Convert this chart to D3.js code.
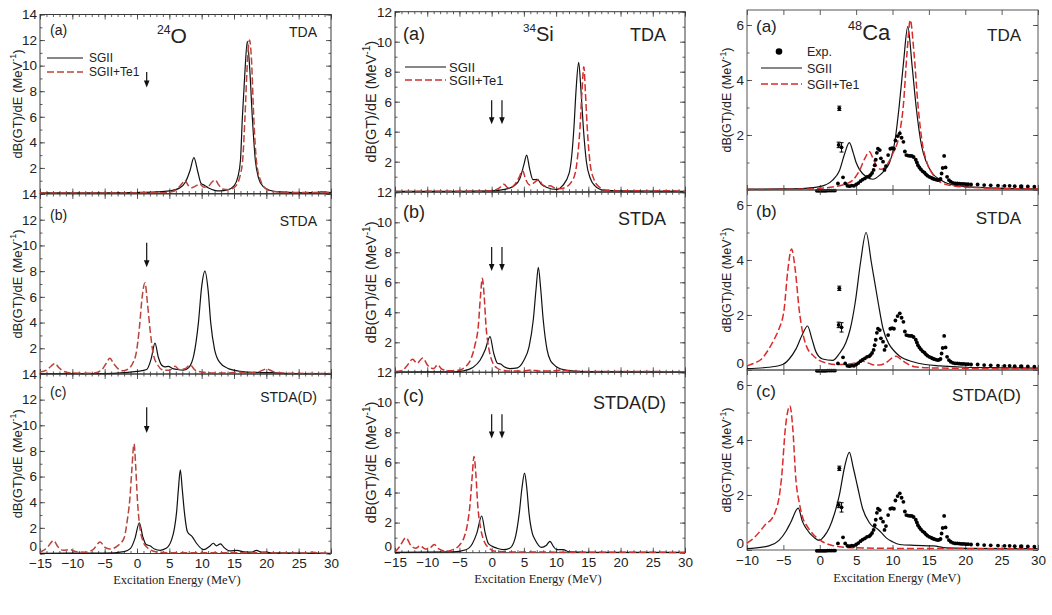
<!doctype html>
<html>
<head>
<meta charset="utf-8">
<script src="https://d3js.org/d3.v7.min.js"></script>
<style>
  body { margin: 0; background: #fff; }
  text { font-family: "Liberation Sans", Arial, sans-serif; fill: #222; }
  .serif { font-family: "Liberation Serif", "Times New Roman", serif; }
</style>
</head>
<body>
<script>
// ---------------- data ----------------
// 24O
var o24TdaSgii = [[-15,0.05],[-5,0.06],[0,0.08],[3,0.12],[5,0.2],[6.5,0.4],[7.5,0.9],[8.2,1.8],[8.8,2.8],[9.4,1.7],[9.9,0.8],[10.4,0.65],[11,0.45],[12,0.25],[12.8,0.2],[14,0.28],[15,0.6],[15.6,1.3],[16,2.6],[16.29,5.9],[16.7,9.6],[17.06,11.9],[17.45,9.6],[17.84,5.9],[18.3,2.6],[18.8,1.2],[19.5,0.55],[20.5,0.25],[22,0.12],[25,0.06],[27.5,0.07],[28.5,0.12],[29.3,0.1],[30,0.08]];
var o24TdaTe1 = [[-15,0.03],[0,0.05],[4,0.06],[5.5,0.15],[6.4,0.45],[7.0,0.8],[7.4,1.05],[7.9,0.65],[8.4,0.45],[9.1,0.6],[9.7,0.75],[10.3,0.5],[11.0,0.55],[11.6,0.9],[12.1,1.05],[12.6,0.7],[13.2,0.35],[14.2,0.3],[15.2,0.55],[16.0,1.5],[16.4,3],[16.7,6],[17.1,10.5],[17.4,12.0],[17.7,10.5],[18.05,6],[18.5,2.4],[19.2,0.9],[20,0.35],[21,0.15],[24,0.07],[28,0.08],[30,0.05]];
var o24StdaSgii = [[-15,0.02],[-5,0.03],[-2,0.1],[0,0.2],[1.5,0.35],[2.2,1.2],[2.78,2.4],[3.3,1.3],[3.8,0.7],[4.3,0.55],[4.85,0.6],[5.4,0.45],[6.2,0.35],[7.2,0.3],[8.0,0.5],[8.8,1.5],[9.5,4.0],[10.0,6.8],[10.5,8.0],[11.0,6.5],[11.4,4.0],[12.0,1.9],[12.8,0.9],[14,0.45],[14.9,0.3],[16,0.2],[18,0.12],[21,0.1],[23,0.03],[30,0.02]];
var o24StdaTe1 = [[-15,0.15],[-14,0.3],[-13.3,0.6],[-12.7,0.83],[-12.1,0.5],[-11.3,0.2],[-10,0.08],[-7,0.06],[-5.5,0.3],[-4.8,0.8],[-4.2,1.22],[-3.6,0.8],[-2.8,0.35],[-2.2,0.25],[-1.5,0.35],[-0.7,0.8],[-0.1,1.7],[0.36,3.55],[0.8,6.0],[1.24,7.1],[1.6,5.6],[2.0,3.55],[2.5,1.6],[3.2,0.7],[4.1,0.3],[5.0,0.3],[5.9,0.6],[6.5,0.35],[7.4,0.4],[8.2,0.7],[9.0,0.3],[10,0.15],[12,0.08],[14,0.08],[15.9,0.15],[17,0.08],[19,0.2],[20.05,0.4],[21,0.2],[22.5,0.08],[25,0.05],[30,0.03]];
var o24StdaDSgii = [[-15,0.02],[-5,0.03],[-2,0.15],[-1,0.4],[-0.3,1.2],[0.36,2.4],[0.9,1.3],[1.4,0.7],[2.0,0.6],[2.7,0.35],[3.6,0.25],[4.5,0.4],[5.3,1.0],[5.8,2.0],[6.13,3.27],[6.4,5.0],[6.7,6.53],[7.0,5.0],[7.32,3.27],[7.8,1.7],[8.56,1.3],[9.2,0.8],[10.3,0.3],[11.2,0.55],[11.8,0.8],[12.3,0.6],[12.9,0.75],[13.5,0.45],[14.4,0.2],[15.5,0.25],[16.5,0.12],[17.7,0.1],[18.5,0.25],[19.2,0.1],[20,0.1],[21,0.05],[30,0.02]];
var o24StdaDTe1 = [[-15,0.1],[-14,0.4],[-12.9,1.0],[-12.2,0.5],[-11.4,0.25],[-10.4,0.3],[-9.5,0.15],[-8,0.1],[-6.8,0.3],[-5.7,0.9],[-5.0,0.5],[-4.2,0.35],[-3.0,0.6],[-2.0,1.2],[-1.5,2.6],[-1.1,4.3],[-0.8,6.5],[-0.46,8.56],[-0.2,6.8],[0.05,4.3],[0.4,2.2],[0.9,1.0],[1.5,0.5],[2.0,0.3],[3,0.12],[5,0.06],[10,0.05],[20,0.05],[26,0.04],[27,0.1],[28,0.05],[30,0.02]];
// 34Si
var si34TdaSgii = [[-15,0.02],[-5,0.03],[0,0.05],[2,0.15],[3.5,0.4],[4.4,0.9],[5.0,1.8],[5.43,2.44],[5.9,1.5],[6.4,0.8],[7.08,0.82],[7.7,0.5],[8.5,0.3],[10.1,0.15],[11,0.4],[12.0,1.2],[12.4,2.3],[12.77,4.3],[13.1,6.8],[13.5,8.62],[13.85,6.8],[14.22,4.3],[14.7,2.0],[15.3,0.9],[16,0.4],[17.3,0.1],[20,0.05],[30,0.03]];
var si34TdaTe1 = [[-15,0.02],[-2,0.03],[0,0.06],[1.2,0.25],[1.9,0.49],[2.6,0.25],[3.3,0.35],[4.2,0.9],[4.8,1.4],[5.3,0.8],[5.9,0.45],[6.6,0.6],[7.3,0.82],[7.9,0.45],[8.5,0.35],[9.05,0.4],[9.8,0.25],[10.6,0.2],[11.5,0.3],[12.3,0.6],[13.0,1.3],[13.35,2.4],[13.7,4.2],[14.0,6.6],[14.3,8.33],[14.55,6.6],[14.84,4.2],[15.3,1.8],[15.9,0.8],[16.6,0.35],[17.8,0.1],[20,0.05],[23,0.07],[24,0.03],[26.6,0.07],[30,0.02]];
var si34StdaSgii = [[-15,0.02],[-6,0.03],[-4.4,0.1],[-3,0.3],[-1.8,0.8],[-1.0,1.5],[-0.26,2.38],[0.3,1.3],[0.9,0.6],[1.4,0.55],[2.0,0.35],[2.84,0.25],[4.0,0.3],[5.0,0.8],[5.8,1.7],[6.46,3.5],[6.9,5.6],[7.24,7.0],[7.6,5.6],[8.0,3.5],[8.6,1.5],[9.1,0.8],[9.57,0.55],[10.3,0.3],[11.5,0.15],[14.2,0.05],[30,0.02]];
var si34StdaTe1 = [[-15,0.05],[-14,0.1],[-13.2,0.4],[-12.26,0.87],[-11.6,0.6],[-10.7,0.95],[-9.9,0.45],[-9.0,0.25],[-8.4,0.5],[-7.7,0.2],[-6.5,0.1],[-5,0.15],[-4,0.4],[-3.2,0.9],[-2.6,1.8],[-2.07,3.1],[-1.75,5.0],[-1.45,6.27],[-1.15,5.0],[-0.88,3.1],[-0.4,1.5],[0.2,0.6],[0.77,0.3],[1.5,0.15],[3,0.08],[5,0.1],[6.2,0.15],[7.5,0.08],[9.5,0.1],[10.9,0.15],[12,0.08],[15,0.05],[20,0.06],[30,0.03]];
var si34StdaDSgii = [[-15,0.02],[-6,0.05],[-4,0.2],[-3,0.6],[-2.3,1.3],[-1.55,2.44],[-1.0,1.3],[-0.5,0.6],[0.0,0.45],[0.8,0.3],[1.8,0.2],[2.8,0.3],[3.6,0.9],[4.29,2.65],[4.7,4.3],[5.1,5.29],[5.45,4.3],[5.79,2.65],[6.3,1.3],[6.7,0.9],[7.76,0.35],[8.5,0.5],[9.05,0.75],[9.6,0.4],[10.1,0.2],[11.1,0.2],[12,0.06],[15,0.03],[30,0.02]];
var si34StdaDTe1 = [[-15,0.05],[-14.3,0.4],[-13.3,1.0],[-12.5,0.45],[-11.8,0.3],[-11.1,0.45],[-10.3,0.25],[-9.6,0.3],[-8.9,0.55],[-8.2,0.25],[-7.0,0.1],[-6,0.2],[-5,0.5],[-4.3,1.0],[-3.8,1.8],[-3.36,3.2],[-3.0,5.2],[-2.74,6.4],[-2.45,5.2],[-2.17,3.2],[-1.7,1.6],[-1.1,0.7],[-0.4,0.3],[0.3,0.12],[3,0.05],[30,0.02]];
// 48Ca
var ca48TdaSgii = [[-10,0.03],[-5,0.04],[-2,0.06],[0,0.12],[1.77,0.36],[2.7,0.7],[3.4,1.3],[4.07,1.72],[4.6,1.35],[5.0,1.0],[5.45,0.75],[6.4,0.48],[7.3,0.39],[8.3,0.55],[9.0,0.75],[9.6,1.0],[10.4,1.9],[10.9,3.0],[11.5,4.6],[12.1,5.94],[12.7,4.5],[13.26,3.0],[14.0,1.6],[14.6,1.05],[15.5,0.6],[16.5,0.38],[18,0.2],[20.2,0.12],[25,0.06],[30,0.04]];
var ca48TdaTe1 = [[-10,0.02],[-3,0.03],[0,0.06],[2,0.12],[3.6,0.22],[4.5,0.35],[5.45,0.7],[6.2,1.15],[6.83,1.39],[7.4,1.1],[8.0,0.8],[8.44,0.75],[9.2,0.9],[10,1.3],[11.0,2.1],[11.5,3.1],[12.0,5.0],[12.44,6.18],[12.95,5.0],[13.5,3.1],[14.1,1.7],[14.8,0.95],[15.6,0.55],[16.5,0.3],[18.3,0.15],[22,0.08],[30,0.04]];
var ca48StdaSgii = [[-10,0.05],[-7,0.1],[-5.1,0.2],[-4.2,0.4],[-3.3,0.75],[-2.37,1.3],[-1.68,1.6],[-1.1,1.15],[-0.5,0.65],[0.39,0.4],[1.77,0.35],[2.7,0.6],[3.6,1.0],[4.2,1.5],[4.9,2.5],[5.6,3.9],[6.37,5.0],[7.1,3.9],[8.0,2.5],[8.7,1.5],[9.5,0.95],[10.2,0.7],[11.0,0.5],[12.8,0.3],[14.5,0.2],[16.5,0.15],[20,0.1],[25,0.08],[30,0.07]];
var ca48StdaTe1 = [[-10,0.15],[-9,0.25],[-8,0.4],[-7.4,0.6],[-6.7,0.9],[-6.1,1.2],[-5.6,1.5],[-4.9,2.2],[-4.4,3.6],[-3.88,4.4],[-3.35,3.6],[-2.83,2.2],[-2.3,1.3],[-1.8,0.85],[-1.0,0.55],[-0.07,0.35],[1,0.25],[2.5,0.2],[4.07,0.22],[5.2,0.28],[5.9,0.32],[6.7,0.25],[7.5,0.18],[8.2,0.18],[9.3,0.3],[10.0,0.45],[10.5,0.5],[11.2,0.38],[11.9,0.25],[13,0.12],[15,0.08],[20,0.06],[30,0.04]];
var ca48StdaDSgii = [[-10,0.05],[-7,0.15],[-5.6,0.35],[-4.6,0.7],[-4.0,1.0],[-2.95,1.52],[-2.4,1.05],[-1.9,0.8],[-0.76,0.45],[-0.07,0.35],[0.6,0.5],[1.3,0.8],[2.0,1.3],[2.7,2.0],[3.4,3.0],[4.07,3.55],[4.6,3.0],[5.2,2.3],[5.9,1.5],[6.8,1.0],[7.3,0.85],[7.75,0.8],[8.4,0.65],[9.1,0.45],[10,0.3],[11.0,0.2],[13,0.17],[15.6,0.15],[17.4,0.08],[20,0.06],[30,0.05]];
var ca48StdaDTe1 = [[-10,0.25],[-9,0.45],[-8,0.75],[-7.4,0.95],[-6.7,1.1],[-6.1,1.4],[-5.6,1.9],[-5.26,2.6],[-4.7,4.5],[-4.1,5.24],[-3.7,4.4],[-3.29,2.6],[-2.8,1.7],[-2.37,1.2],[-1.7,0.85],[-1.0,0.6],[0.39,0.3],[1.5,0.18],[2.7,0.12],[5,0.08],[10,0.06],[20,0.05],[30,0.05]];
// 48Ca experiment (same in all three panels)
var ca48Exp = [[-0.4,-0.03],[-0.15,-0.03],[0.1,-0.03],[0.35,-0.03],[0.6,-0.03],[0.85,-0.03],[1.1,-0.02],[1.35,-0.02],[1.6,-0.02],[1.85,-0.02],[2.1,-0.02],
  [2.5,0.24],[3.2,0.46],[3.5,0.24],[3.8,0.15],[4.1,0.14],[4.4,0.16],[4.7,0.15],[5.0,0.2],[5.3,0.25],[5.6,0.32],[5.9,0.38],[6.2,0.42],[6.5,0.48],[6.8,0.5],[7.0,0.55],[7.2,0.62],[7.4,0.73],[7.55,0.9],[7.7,1.1],[7.85,1.35],[8.0,1.5],[8.25,1.45],[8.4,1.15],[8.7,1.03],[8.9,0.73],[9.1,0.87],[9.4,1.27],[9.7,1.5],[9.95,1.52],[10.2,1.5],[10.4,1.8],[10.7,1.96],[11.0,2.06],[11.25,1.9],[11.5,1.75],[11.7,1.4],[11.9,1.27],[12.15,1.25],[12.4,1.24],[12.65,1.24],[12.9,1.2],[13.2,1.1],[13.35,1.0],[13.5,0.9],[13.7,0.82],[13.9,0.75],[14.15,0.68],[14.4,0.63],[14.6,0.57],[14.8,0.52],[15.05,0.48],[15.3,0.45],[15.5,0.42],[15.7,0.4],[15.95,0.38],[16.2,0.36],[16.4,0.37],[16.6,0.4],[16.75,0.6],[16.9,0.8],[17.1,1.24],[17.3,0.82],[17.5,0.48],[17.75,0.36],[18.0,0.3],[18.3,0.26],[18.6,0.24],[18.9,0.24],[19.2,0.23],[19.5,0.22],[19.8,0.22],[20.1,0.21],[20.4,0.21],[20.8,0.2],[21.7,0.2],[22.6,0.18],[23.5,0.17],[24.5,0.16],[25.4,0.15],[26.1,0.15],[26.8,0.14],[27.7,0.13],[28.6,0.13],[29.5,0.12]];
var ca48ExpErr = [[2.69,2.97,0.08],[2.6,1.64,0.1],[3.0,1.55,0.17],[27.7,0.13,0.04]];
// arrows (energy positions)
var o24Arrows = [1.5];
var si34Arrows = [0, 1.6];
var panelTags = ["(a)", "(b)", "(c)"];
var methods = ["TDA", "STDA", "STDA(D)"];
var legendNames = ["SGII", "SGII+Te1"];

// ---------------- layout ----------------
var W = 1052, H = 615;
var svg = d3.select("body").append("svg").attr("width", W).attr("height", H);

var cols = [
  { x: [40, 331], dom: [-15, 30], ymax: 14, ymaj: 2, xminor: 1, red: "#b8453c", frame: "#3a3a3a",
    rows: [[14.5, 193.5], [194, 374], [374, 553.5]],
    series: [[o24TdaSgii, o24TdaTe1], [o24StdaSgii, o24StdaTe1], [o24StdaDSgii, o24StdaDTe1]],
    arrows: o24Arrows, arrowY: [[9.5, 8.3], [10.2, 8.3], [11.4, 9.4]],
    zeroLabel: [false, false, true], ylabX: 17, ylabFs: 13, xlabX: 177, xlabY: 584,
    tagFs: 14, tagX: 50, tagDy: [20, 26, 23], methFs: 14, methDy: [22, 32, 28], methX: 317,
    nuc: ["24", "O"], nucX: 157, nucY: 43, nucFs: 21,
    leg: { x0: 47, x1: 83, tx: 89, y: [58, 72], fs: 12 } },
  { x: [395, 685], dom: [-15, 30], ymax: 12, ymaj: 2, xminor: 1, red: "#cc3030", frame: "#3a3a3a",
    rows: [[11.7, 191.7], [192.3, 372.3], [372.2, 552.7]],
    series: [[si34TdaSgii, si34TdaTe1], [si34StdaSgii, si34StdaTe1], [si34StdaDSgii, si34StdaDTe1]],
    arrows: si34Arrows, arrowY: [[6.1, 4.5], [8.35, 6.75], [9.2, 7.6]],
    zeroLabel: [false, false, true], ylabX: 371, ylabFs: 14.5, xlabX: 538, xlabY: 583,
    tagFs: 18, tagX: 403, tagDy: [28, 26, 30], methFs: 18, methDy: [29, 33, 37], methX: 666,
    nuc: ["34", "Si"], nucX: 523, nucY: 41, nucFs: 20,
    leg: { x0: 405, x1: 446, tx: 449, y: [67, 80], fs: 13 } },
  { x: [747, 1038], dom: [-10, 30], ymax: 6.545, ymaj: 2, xminor: 0, red: "#d92b2b", frame: "#555",
    rows: [[10, 190], [190, 370], [370, 550]],
    series: [[ca48TdaSgii, ca48TdaTe1], [ca48StdaSgii, ca48StdaTe1], [ca48StdaDSgii, ca48StdaDTe1]],
    arrows: [], arrowY: [],
    zeroLabel: [false, true, true], ylabX: 727, ylabFs: 12.5, xlabX: 897, xlabY: 582,
    tagFs: 17, tagX: 756, tagDy: [22, 27, 27], methFs: 17, methDy: [31, 34, 31], methX: 1021,
    nuc: ["48", "Ca"], nucX: 848, nucY: 40, nucFs: 22,
    leg: { x0: 761, x1: 802, tx: 807, y: [68, 84], fs: 12.5 }, exp: true }
];

function arrow(g, x, yTop, yBot) {
  g.append("line").attr("x1", x).attr("x2", x).attr("y1", yTop).attr("y2", yBot - 6)
    .attr("stroke", "#111").attr("stroke-width", 1.2);
  g.append("path").attr("d", "M" + (x - 2.8) + "," + (yBot - 7) + "L" + (x + 2.8) + "," + (yBot - 7) + "L" + x + "," + yBot + "Z")
    .attr("fill", "#111");
}

cols.forEach(function (c) {
  var x = d3.scaleLinear().domain(c.dom).range(c.x);
  var xMaj = d3.range(c.dom[0], c.dom[1] + 0.01, 5);
  var xMin = c.xminor ? d3.range(c.dom[0], c.dom[1] + 0.01, c.xminor) : [];

  c.rows.forEach(function (r, ri) {
    var g = svg.append("g");
    var y = d3.scaleLinear().domain([0, c.ymax]).range([r[1], r[0]]);
    var yMaj = d3.range(0, c.ymax + 0.01, c.ymaj);
    var yMin = d3.range(0, c.ymax + 0.01, 1);

    // minor ticks
    [[d3.axisBottom, r[1], xMin, x], [d3.axisTop, r[0], xMin, x]].forEach(function (a) {
      g.append("g").attr("transform", "translate(0," + a[1] + ")")
        .call(a[0](a[3]).tickValues(a[2]).tickSizeInner(-2.5).tickSizeOuter(0).tickFormat(""));
    });
    [[d3.axisLeft, c.x[0]], [d3.axisRight, c.x[1]]].forEach(function (a) {
      g.append("g").attr("transform", "translate(" + a[1] + ",0)")
        .call(a[0](y).tickValues(yMin).tickSizeInner(-2.5).tickSizeOuter(0).tickFormat(""));
    });
    // major ticks
    var bottom = d3.axisBottom(x).tickValues(xMaj).tickSizeInner(-5).tickSizeOuter(0).tickPadding(5)
      .tickFormat(ri === 2 ? d3.format("d") : "");
    g.append("g").attr("class", "xb").attr("transform", "translate(0," + r[1] + ")").call(bottom);
    g.append("g").attr("transform", "translate(0," + r[0] + ")")
      .call(d3.axisTop(x).tickValues(xMaj).tickSizeInner(-5).tickSizeOuter(0).tickFormat(""));
    var yLabVals = yMaj.filter(function (v) { return v > 0 || c.zeroLabel[ri]; });
    if (c.ymax === 14 || c.ymax === 12) yLabVals = yLabVals.concat([c.ymax]).filter(function (v, i, a) { return a.indexOf(v) === i; });
    g.append("g").attr("class", "yl").attr("transform", "translate(" + c.x[0] + ",0)")
      .call(d3.axisLeft(y).tickValues(yLabVals).tickSizeInner(-5).tickSizeOuter(0).tickPadding(3).tickFormat(d3.format("d")));
    g.append("g").attr("transform", "translate(" + c.x[1] + ",0)")
      .call(d3.axisRight(y).tickValues(yMaj).tickSizeInner(-5).tickSizeOuter(0).tickFormat(""));
    g.selectAll(".domain").remove();
    g.selectAll(".tick line").attr("stroke", "#333").attr("stroke-width", 0.8);
    g.selectAll(".xb text").attr("font-size", 13.5).attr("fill", "#222").attr("font-family", "Liberation Sans, Arial, sans-serif");
    g.selectAll(".yl text").attr("font-size", 13.5).attr("fill", "#222").attr("font-family", "Liberation Sans, Arial, sans-serif");
    // lift the bottom "0" so it sits just above the first x label
    g.selectAll(".yl .tick").filter(function (d) { return d === 0; }).select("text").attr("dy", "-0.2em");

    // frame
    g.append("rect").attr("x", c.x[0]).attr("y", r[0]).attr("width", c.x[1] - c.x[0]).attr("height", r[1] - r[0])
      .attr("fill", "none").attr("stroke", c.frame).attr("stroke-width", 1);

    // curves
    var line = d3.line().x(function (d) { return x(d[0]); }).y(function (d) { return y(d[1]); }).curve(d3.curveMonotoneX);
    g.append("path").attr("d", line(c.series[ri][0])).attr("fill", "none").attr("stroke", "#111").attr("stroke-width", 1.2);
    g.append("path").attr("d", line(c.series[ri][1])).attr("fill", "none").attr("stroke", c.red)
      .attr("stroke-width", 1.5).attr("stroke-dasharray", "7,3");

    // experiment
    if (c.exp) {
      g.selectAll("circle.exp").data(ca48Exp).enter().append("circle").attr("class", "exp")
        .attr("cx", function (d) { return x(d[0]); }).attr("cy", function (d) { return y(d[1]); })
        .attr("r", 1.9).attr("fill", "#000");
      ca48ExpErr.forEach(function (e) {
        var xx = x(e[0]);
        g.append("line").attr("x1", xx).attr("x2", xx).attr("y1", y(e[1] + e[2])).attr("y2", y(e[1] - e[2])).attr("stroke", "#000").attr("stroke-width", 1);
        [e[1] + e[2], e[1] - e[2]].forEach(function (v) {
          g.append("line").attr("x1", xx - 2).attr("x2", xx + 2).attr("y1", y(v)).attr("y2", y(v)).attr("stroke", "#000").attr("stroke-width", 1);
        });
        g.append("circle").attr("cx", xx).attr("cy", y(e[1])).attr("r", 1.9).attr("fill", "#000");
      });
    }

    // arrows
    c.arrows.forEach(function (e) {
      arrow(g, x(e), y(c.arrowY[ri][0]), y(c.arrowY[ri][1]));
    });

    // panel tag and method
    g.append("text").attr("x", c.tagX).attr("y", r[0] + c.tagDy[ri]).attr("font-size", c.tagFs).text(panelTags[ri]);
    g.append("text").attr("x", c.methX).attr("y", r[0] + c.methDy[ri]).attr("font-size", c.methFs)
      .attr("text-anchor", "end").text(methods[ri]);

    // y title
    var yt = g.append("text").attr("transform", "translate(" + c.ylabX + "," + ((r[0] + r[1]) / 2) + ") rotate(-90)")
      .attr("text-anchor", "middle").attr("dy", "0.35em").attr("font-size", c.ylabFs);
    yt.append("tspan").text("dB(GT)/dE (MeV");
    yt.append("tspan").attr("dy", -c.ylabFs * 0.4).attr("font-size", c.ylabFs * 0.7).text("-1");
    yt.append("tspan").attr("dy", c.ylabFs * 0.4).text(")");
  });

  // nucleus label
  var nt = svg.append("text").attr("x", c.nucX).attr("y", c.nucY).attr("font-size", c.nucFs);
  nt.append("tspan").attr("font-size", c.nucFs * 0.58).attr("dy", -c.nucFs * 0.45).text(c.nuc[0]);
  nt.append("tspan").attr("dy", c.nucFs * 0.45).text(c.nuc[1]);

  // legend
  var L = c.leg;
  if (c.exp) {
    svg.append("circle").attr("cx", 779).attr("cy", 51.5).attr("r", 3.3).attr("fill", "#000");
    svg.append("text").attr("x", L.tx).attr("y", 56).attr("font-size", L.fs).text("Exp.");
  }
  svg.append("line").attr("x1", L.x0).attr("x2", L.x1).attr("y1", L.y[0]).attr("y2", L.y[0]).attr("stroke", "#111").attr("stroke-width", 1.2);
  svg.append("line").attr("x1", L.x0).attr("x2", L.x1).attr("y1", L.y[1]).attr("y2", L.y[1]).attr("stroke", c.red)
    .attr("stroke-width", 1.5).attr("stroke-dasharray", "7,3");
  legendNames.forEach(function (n, i) {
    svg.append("text").attr("x", L.tx).attr("y", L.y[i]).attr("dy", "0.36em").attr("font-size", L.fs).text(n);
  });

  // x title
  svg.append("text").attr("class", "serif").attr("x", c.xlabX).attr("y", c.xlabY)
    .attr("text-anchor", "middle").attr("font-size", 12.5).text("Excitation Energy (MeV)");
});
</script>
</body>
</html>
